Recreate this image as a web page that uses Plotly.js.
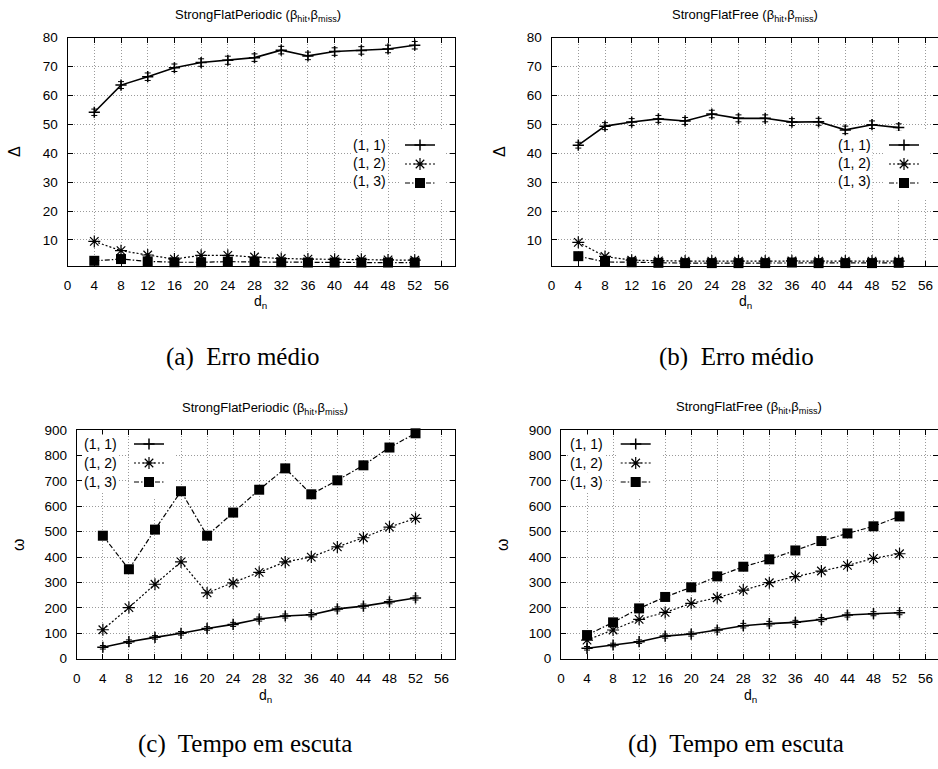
<!DOCTYPE html>
<html><head><meta charset="utf-8">
<script src="https://cdn.plot.ly/plotly-3.0.1.min.js"></script>
<style>html,body{margin:0;padding:0;background:#fff}#chart{width:938px;height:769px}</style>
</head><body><div id="chart"></div>
<script>
// ---- data ----
const dn = [4, 8, 12, 16, 20, 24, 28, 32, 36, 40, 44, 48, 52];
const seriesNames = ["(1, 1)", "(1, 2)", "(1, 3)"];
const xTickVals = [0, 4, 8, 12, 16, 20, 24, 28, 32, 36, 40, 44, 48, 52, 56];
const yTickValsErr = [10, 20, 30, 40, 50, 60, 70, 80];
const yTickValsTime = [0, 100, 200, 300, 400, 500, 600, 700, 800, 900];

// (a) Erro médio - StrongFlatPeriodic
const a11 = [54.2, 63.6, 66.5, 69.6, 71.4, 72.2, 73.1, 75.7, 73.7, 75.2, 75.6, 76.1, 77.4];
const a12 = [9.5, 6.3, 4.8, 3.4, 4.7, 4.7, 4.1, 3.6, 3.4, 3.3, 3.3, 3.1, 3.0];
const a13 = [2.8, 3.4, 2.6, 2.3, 2.3, 2.5, 2.4, 2.3, 2.2, 2.2, 2.2, 2.2, 2.2];
const a11err = [1.1, 1.2, 1.3, 1.3, 1.3, 1.4, 1.3, 1.3, 1.3, 1.3, 1.3, 1.3, 1.3];
// (b) Erro médio - StrongFlatFree
const b11 = [42.8, 49.4, 50.8, 51.9, 51.2, 53.6, 52.1, 52.1, 50.8, 50.9, 48.1, 49.9, 48.9];
const b12 = [9.2, 4.3, 3.0, 2.8, 2.7, 2.7, 2.7, 2.7, 2.8, 2.7, 2.7, 2.7, 2.7];
const b13 = [4.4, 2.4, 2.3, 2.1, 2.0, 2.0, 2.0, 2.0, 2.2, 2.0, 2.0, 2.0, 2.1];
const b11err = [1.0, 1.2, 1.2, 1.2, 1.2, 1.3, 1.2, 1.2, 1.2, 1.2, 1.3, 1.3, 1.3];
// (c) Tempo em escuta - StrongFlatPeriodic
const c11 = [45, 67, 84, 100, 119, 135, 156, 168, 173, 196, 207, 224, 239];
const c12 = [114, 201, 293, 381, 259, 298, 340, 381, 400, 440, 476, 518, 552];
const c13 = [484, 352, 508, 659, 484, 575, 665, 749, 647, 702, 761, 831, 887];
const c11err = [7, 7, 7, 7, 7, 8, 8, 8, 8, 8, 8, 8, 8];
// (d) Tempo em escuta - StrongFlatFree
const d11 = [41, 54, 67, 89, 97, 113, 130, 138, 143, 154, 172, 177, 181];
const d12 = [73, 113, 155, 182, 218, 240, 270, 299, 323, 345, 367, 395, 413];
const d13 = [93, 143, 198, 243, 281, 324, 362, 391, 426, 463, 493, 521, 560];
const d11err = [7, 7, 7, 8, 8, 8, 9, 9, 8, 8, 8, 8, 8];

const titles = ["StrongFlatPeriodic (β<sub>hit</sub>,β<sub>miss</sub>)", "StrongFlatFree (β<sub>hit</sub>,β<sub>miss</sub>)",
                "StrongFlatPeriodic (β<sub>hit</sub>,β<sub>miss</sub>)", "StrongFlatFree (β<sub>hit</sub>,β<sub>miss</sub>)"];
const captions = ["(a)\u00a0 Erro médio", "(b)\u00a0 Erro médio", "(c)\u00a0 Tempo em escuta", "(d)\u00a0 Tempo em escuta"];
const yLabels = ["Δ", "Δ", "ω", "ω"];
const xLabel = "d<sub>n</sub>";

// ---- layout helpers ----
const W = 938, H = 769;
const px = v => v / W, py = v => 1 - v / H;
const SANS = "Liberation Sans, Arial, sans-serif";
const SERIF = "Liberation Serif, Times New Roman, serif";

const panels = [
  {xs: 'x',  ys: 'y',  leg: 'legend',  ser: [a11, a12, a13], err: a11err,
   xd: [67.6, 454.8], yd: [266, 37.7], xr: [0, 58], yr: [1, 80], yt: yTickValsErr,
   title: [258, 15], ylab: [15, 152], xlab: [260, 302], cap: [242, 357], legX: 400, legRows: [145, 163, 181], txtR: 388},
  {xs: 'x2', ys: 'y2', leg: 'legend2', ser: [b11, b12, b13], err: b11err,
   xd: [551.6, 938], yd: [266, 37.7], xr: [0, (938 - 551.6) / 6.675], yr: [1, 80], yt: yTickValsErr,
   title: [745, 15], ylab: [500, 152], xlab: [745, 302], cap: [736, 357], legX: 884, legRows: [145, 163, 181], txtR: 873},
  {xs: 'x3', ys: 'y3', leg: 'legend3', ser: [c11, c12, c13], err: c11err,
   xd: [76.8, 454.6], yd: [658.7, 430], xr: [0, 58], yr: [0, 900], yt: yTickValsTime,
   title: [265, 408], ylab: [18, 545], xlab: [265, 696], cap: [245, 744], legX: 129, legRows: [444, 463, 482], txtR: 119},
  {xs: 'x4', ys: 'y4', leg: 'legend4', ser: [d11, d12, d13], err: d11err,
   xd: [561, 938], yd: [658.7, 430], xr: [0, (938 - 561) / 6.51], yr: [0, 900], yt: yTickValsTime,
   title: [749, 407], ylab: [502, 545], xlab: [750, 696], cap: [736, 744], legX: 615.7, legRows: [444, 463, 482], txtR: 605}
];

const styles = [
  {dash: 'solid', width: 1.6, symbol: 'cross-thin-open', size: 8, mlw: 1.5},
  {dash: '2px,2px', width: 1.2, symbol: 'asterisk-open', size: 10, mlw: 1.2},
  {dash: '5px,2px,1.5px,2px', width: 1.2, symbol: 'square', size: 10, mlw: 0}
];

const traces = [];
const annotations = [];
const layout = {
  width: W, height: H, margin: {l: 0, r: 0, t: 0, b: 0},
  paper_bgcolor: '#fff', plot_bgcolor: '#fff', showlegend: true,
  font: {family: SANS, color: '#000'}
};

panels.forEach((p, i) => {
  const n = i === 0 ? '' : String(i + 1);
  p.ser.forEach((vals, k) => {
    const s = styles[k];
    const t = {
      type: 'scatter', mode: 'lines+markers', x: dn, y: vals,
      xaxis: p.xs, yaxis: p.ys, legend: p.leg, name: '', cliponaxis: false,
      line: {color: '#000', width: s.width, dash: s.dash},
      marker: {symbol: s.symbol, size: s.size, color: '#000', line: {color: '#000', width: s.mlw}},
      hovertemplate: seriesNames[k] + ': %{y}<extra></extra>'
    };
    if (k === 0) t.error_y = {type: 'data', array: p.err, visible: true, color: '#000', thickness: 1, width: 3};
    traces.push(t);
  });
  const axCommon = {
    ticks: 'inside', ticklen: 5, tickwidth: 1, tickcolor: '#000', mirror: 'ticks',
    showline: true, linecolor: '#000', linewidth: 1,
    showgrid: true, gridcolor: '#9a9a9a', griddash: '1px,2px', gridwidth: 1,
    zeroline: false, fixedrange: true,
    tickfont: {family: SANS, size: 13.5, color: '#000'}
  };
  layout['xaxis' + n] = Object.assign({}, axCommon, {
    domain: [px(p.xd[0]), Math.min(1, px(p.xd[1]))], range: p.xr, anchor: 'y' + n,
    tickmode: 'array', tickvals: xTickVals, ticklabelstandoff: 7
  });
  layout['yaxis' + n] = Object.assign({}, axCommon, {
    domain: [py(p.yd[0]), py(p.yd[1])], range: p.yr, anchor: 'x' + n,
    tickmode: 'array', tickvals: p.yt, ticklabelstandoff: 6
  });
  layout[p.leg] = {
    x: px(p.legX), y: py(p.legRows[0] - 14.5), xanchor: 'left', yanchor: 'top',
    bgcolor: '#fff', borderwidth: 0, font: {family: SANS, size: 11, color: '#000'}
  };
  annotations.push({xref: 'paper', yref: 'paper', x: px(p.title[0]), y: py(p.title[1]), text: titles[i],
    showarrow: false, xanchor: 'center', yanchor: 'middle', font: {family: SANS, size: 13, color: '#000'}});
  annotations.push({xref: 'paper', yref: 'paper', x: px(p.ylab[0]), y: py(p.ylab[1]), text: yLabels[i],
    showarrow: false, textangle: -90, xanchor: 'center', yanchor: 'middle', font: {family: SANS, size: 16, color: '#000'}});
  annotations.push({xref: 'paper', yref: 'paper', x: px(p.xlab[0]), y: py(p.xlab[1]), text: xLabel,
    showarrow: false, xanchor: 'center', yanchor: 'middle', font: {family: SANS, size: 14, color: '#000'}});
  annotations.push({xref: 'paper', yref: 'paper', x: px(p.cap[0]), y: py(p.cap[1]), text: captions[i],
    showarrow: false, xanchor: 'center', yanchor: 'middle', font: {family: SERIF, size: 25, color: '#000'}});
  seriesNames.forEach((nm, k) => {
    annotations.push({xref: 'paper', yref: 'paper', x: px(p.txtR), y: py(p.legRows[k]), text: nm,
      showarrow: false, xanchor: 'right', yanchor: 'middle', bgcolor: '#fff', borderpad: 1,
      font: {family: SANS, size: 14, color: '#000'}});
  });
});
layout.annotations = annotations;

Plotly.newPlot('chart', traces, layout, {displayModeBar: false, staticPlot: true});
</script>
</body></html>
